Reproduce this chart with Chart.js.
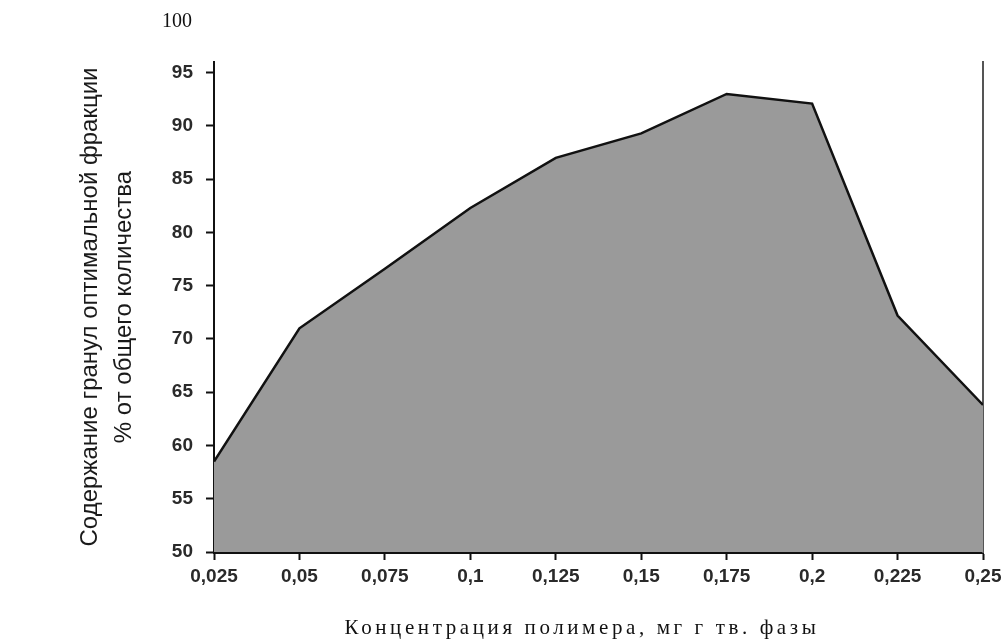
<!DOCTYPE html>
<html>
<head>
<meta charset="utf-8">
<script src="https://cdn.jsdelivr.net/npm/chart.js@4/dist/chart.umd.min.js"></script>
<style>
  body { margin: 0; background: #fff; }
  #wrap { position: relative; width: 1008px; height: 640px; }
  #top-label {
    position: absolute; left: 177px; top: 9px; transform: translateX(-50%);
    font: 20px "Liberation Serif", serif; color: #111;
  }
  #x-title {
    position: absolute; left: 582px; top: 615px; transform: translateX(-50%);
    font: 21px "Liberation Serif", serif; letter-spacing: 3.6px;
    color: #111; white-space: nowrap; line-height: 24px;
  }
</style>
</head>
<body>
<div id="wrap">
  <canvas id="chart" width="1008" height="640"></canvas>
  <div id="top-label">100</div>
  <div id="x-title">Концентрация полимера, мг г тв. фазы</div>
</div>
<script>
// концентрация полимера, мг/г тв. фазы
const concentrations = [0.025, 0.05, 0.075, 0.1, 0.125, 0.15, 0.175, 0.2, 0.225, 0.25];
// содержание гранул оптимальной фракции, %
const fractionShare = [58.5, 71, 76.6, 82.3, 87, 89.3, 93, 92.1, 72.2, 63.8];
const yTickValues = [50, 55, 60, 65, 70, 75, 80, 85, 90, 95];
const yTitleLines = ["Содержание гранул оптимальной фракции", "% от общего количества"];

Chart.defaults.font.family = "'Liberation Sans', Arial, sans-serif";
Chart.defaults.color = "#2a2a2a";

const fmtX = v => String(+v.toFixed(3)).replace(".", ",");

new Chart(document.getElementById("chart"), {
  type: "line",
  data: {
    datasets: [{
      data: concentrations.map((x, i) => ({ x, y: fractionShare[i] })),
      borderColor: "#111",
      borderWidth: 2.5,
      backgroundColor: "#9a9a9a",
      fill: "start",
      pointRadius: 0,
      tension: 0,
    }],
  },
  options: {
    responsive: false,
    animation: false,
    layout: { padding: { left: 0, right: 25, top: 62, bottom: 48 } },
    plugins: { legend: { display: false }, tooltip: { enabled: false } },
    scales: {
      x: {
        type: "linear",
        min: 0.025,
        max: 0.25,
        afterFit: axis => { axis.height = 40; },
        ticks: { stepSize: 0.025, padding: 5, font: { size: 19, weight: "bold" }, callback: fmtX, maxRotation: 0 },
        grid: { drawOnChartArea: false, tickLength: 8, tickColor: "#111", tickWidth: 2 },
        border: { color: "#111", width: 3 },
      },
      y: {
        min: 50,
        max: 96,
        afterFit: axis => { axis.width = 214; },
        afterBuildTicks: axis => { axis.ticks = yTickValues.map(value => ({ value })); },
        ticks: { padding: 13, font: { size: 19, weight: "bold" } },
        grid: { drawOnChartArea: false, tickLength: 8, tickColor: "#111", tickWidth: 2 },
        border: { color: "#111", width: 2 },
        title: {
          display: true,
          text: yTitleLines,
          color: "#1a1a1a",
          font: { size: 24, lineHeight: 34 / 24 },
          padding: { top: 73, bottom: 0 },
        },
      },
      y2: {
        position: "right",
        min: 50,
        max: 96,
        afterFit: axis => { axis.width = 0; },
        ticks: { display: false },
        grid: { drawOnChartArea: false, drawTicks: false },
        border: { color: "#555", width: 2 },
      },
    },
  },
});
</script>
</body>
</html>
